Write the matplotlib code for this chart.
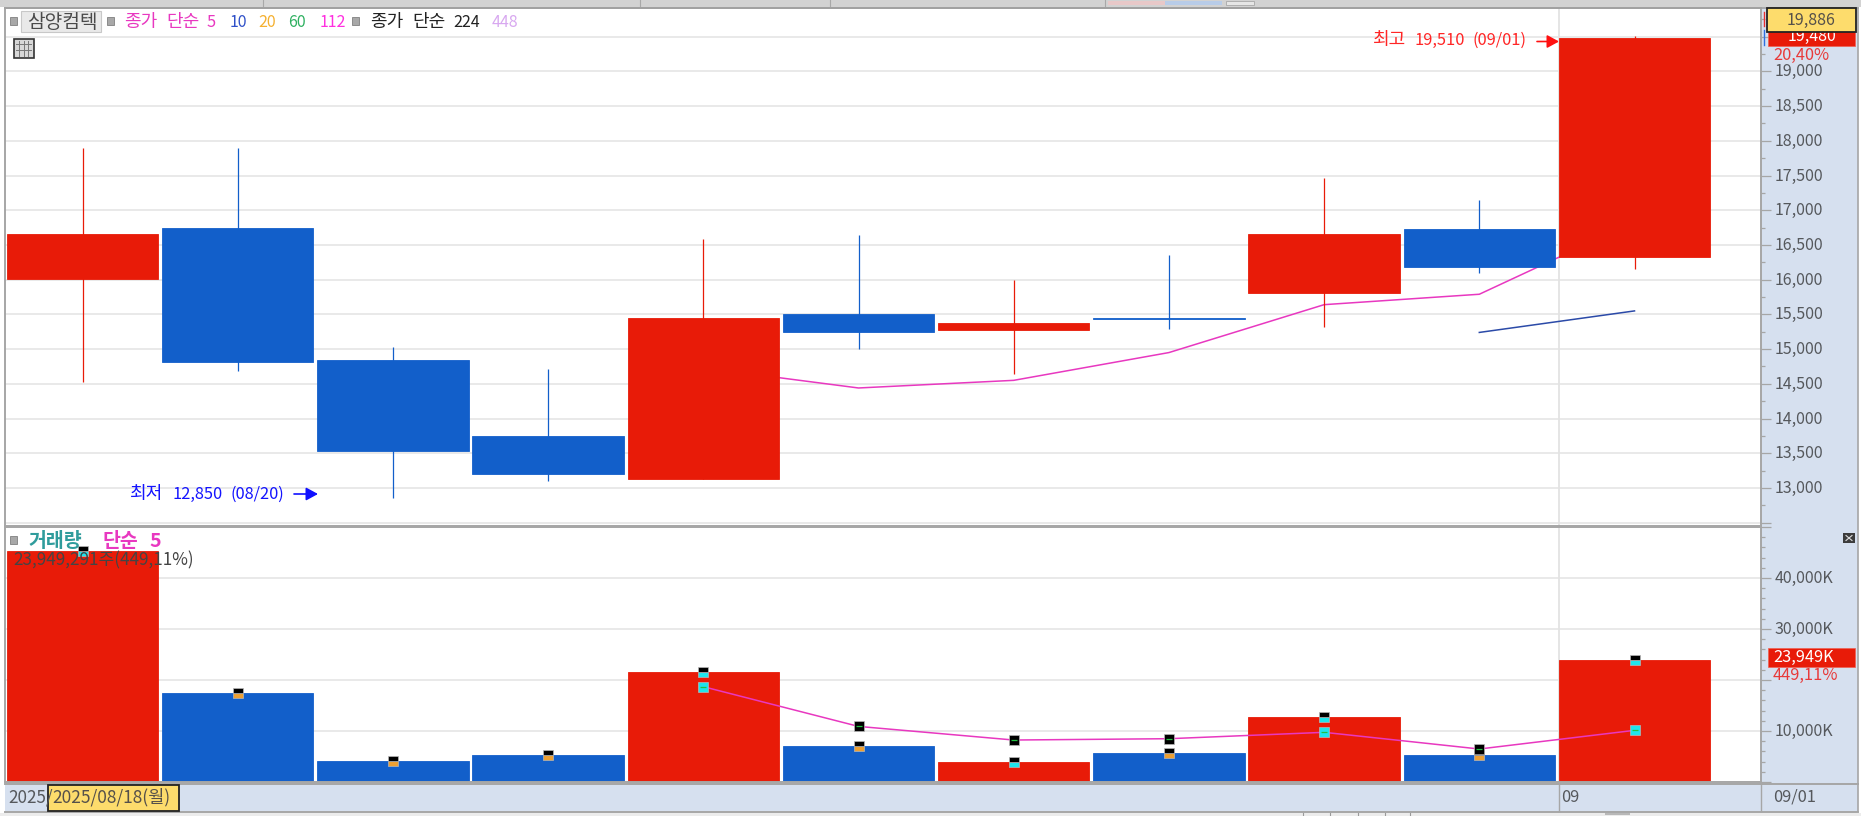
import matplotlib
matplotlib.use('Agg')
import matplotlib.pyplot as plt
from matplotlib.patches import Rectangle
from matplotlib.transforms import ScaledTranslation

plt.rcParams['font.family'] = ['Noto Sans CJK KR', 'DejaVu Sans']

W, H = 1861, 816

# candles, oldest first
opens = [16010, 16750, 14850, 13750, 13135, 15500, 15275, 15450, 15805, 16730, 16320]
closes = [16660, 14810, 13535, 13205, 15445, 15240, 15380, 15440, 16660, 16180, 19480]
highs = [17890, 17900, 15030, 14710, 16590, 16640, 15990, 16350, 17460, 17150, 19510]
lows = [14520, 14690, 12850, 13100, 13135, 15000, 14640, 15290, 15320, 16090, 16160]
volumes = [45350, 17500, 4120, 5300, 21630, 7120, 3920, 5690, 12760, 5360, 23949]

ma5_x = [4, 5, 6, 7, 8, 9, 10]
ma5_price = [14730, 14440, 14550, 14950, 15640, 15790, 16830]
ma10_x = [9, 10]
ma10_price = [15240, 15550]
vol_ma5 = [18690, 10900, 8230, 8490, 9740, 6470, 10130]
vol_ma5_marker = ['c', 'k', 'k', 'k', 'c', 'k', 'c']

price_ticks = list(range(12500, 20000, 500))
price_labels = ['', '13,000', '13,500', '14,000', '14,500', '15,000', '15,500', '16,000',
                '16,500', '17,000', '17,500', '18,000', '18,500', '19,000', '']
vol_ticks = [0, 10000, 20000, 30000, 40000, 50000]
vol_labels = ['', '10,000K', '', '30,000K', '40,000K', '']
month_break = 9.513

RED = '#e81b08'
BLUE = '#125fca'
GRID = '#e3e3e3'
PANEL = '#d6e0ef'
AXIS = '#a6a6a6'
TXT = '#55585c'
MAGENTA = '#e838c0'

n = len(opens)
xs = list(range(n))
colors = [RED if c >= o else BLUE for o, c in zip(opens, closes)]

fig = plt.figure(figsize=(W / 100, H / 100), dpi=100, facecolor='white')


def pane(top, bottom):
    left, right = 5, 1761
    return fig.add_axes([left / W, 1 - bottom / H, (right - left) / W, (bottom - top) / H])


def style_pane(ax):
    ax.set_xlim(-0.4994, 10.815)
    ax.set_xticks([])
    ax.yaxis.tick_right()
    ax.grid(axis='y', color=GRID, lw=1.1, zorder=0)
    ax.axvline(month_break, color=GRID, lw=1.3, zorder=0)
    ax.set_axisbelow(True)
    ax.tick_params(axis='y', which='major', length=7.2, width=0.9, color=AXIS, labelsize=11.5,
                   labelcolor=TXT, pad=2.5)
    ax.tick_params(axis='y', which='minor', length=2.9, width=0.9, color=AXIS)
    for s in ax.spines.values():
        s.set_color(AXIS)
        s.set_linewidth(1.4)
    # the labels sit a little above their ticks
    lift = ScaledTranslation(0, 1.5 / 100, fig.dpi_scale_trans)
    for lab in ax.get_yticklabels():
        lab.set_transform(lab.get_transform() + lift)


# background strips
fig.patches.append(Rectangle((1761 / W, 1 - 811 / H), 97 / W, 811 / H, transform=fig.transFigure,
                             fc=PANEL, ec='none', zorder=-1))
fig.patches.append(Rectangle((5 / W, 1 - 811 / H), 1853 / W, 28 / H, transform=fig.transFigure,
                             fc=PANEL, ec='none', zorder=-1))

# price pane
ax = pane(8, 526)
ax.set_ylim(12452, 19913)
ax.set_yticks(price_ticks)
ax.set_yticklabels(price_labels)
ax.set_yticks(list(range(12750, 20000, 500)), minor=True)
style_pane(ax)
ax.plot(ma5_x, ma5_price, color=MAGENTA, lw=1.1, zorder=1)
ax.plot(ma10_x, ma10_price, color='#2b4aa8', lw=1.1, zorder=1)
ax.vlines(xs, lows, highs, colors=colors, lw=0.9, zorder=2)
ax.bar(xs, [c - o for o, c in zip(opens, closes)], bottom=opens, width=0.975, color=colors,
       edgecolor=colors, lw=0.6, zorder=3)

# volume pane
vx = pane(527, 782)
vx.set_ylim(0, 50000)
vx.set_yticks(vol_ticks)
vx.set_yticklabels(vol_labels)
vx.set_yticks(list(range(2000, 50000, 2000)), minor=True)
style_pane(vx)
vx.bar(xs, volumes, width=0.975, color=colors, edgecolor=colors, lw=0.6, zorder=2)
vx.plot(ma5_x, vol_ma5, color=MAGENTA, lw=1.1, zorder=3)

CYAN = '#20e4ec'
ORANGE = '#eda033'
for x, v, c in zip(xs, volumes, colors):
    vx.plot(x, v, 's', ms=7, fillstyle='bottom', mfc=CYAN if c == RED else ORANGE, mfcalt='black',
            mec='#b8b8b8', mew=0.5, zorder=4, clip_on=False)
for x, v, m in zip(ma5_x, vol_ma5, vol_ma5_marker):
    vx.plot(x, v, 's', ms=7, mfc=CYAN if m == 'c' else 'black', mec='#b8b8b8', mew=0.5, zorder=4)
    vx.plot(x, v, '_', ms=5, color='#20c040', mew=0.9, zorder=5)

# everything that is chrome or text sits on a pixel overlay
ov = fig.add_axes([0, 0, 1, 1], zorder=10)
ov.set_xlim(0, W)
ov.set_ylim(H, 0)
ov.axis('off')
ov.patch.set_alpha(0)


def box(x0, y0, x1, y1, fc, ec='none', lw=0.0, z=2):
    ov.add_patch(Rectangle((x0, y0), x1 - x0, y1 - y0, fc=fc, ec=ec, lw=lw, zorder=z))


def label(x, y, s, color=TXT, size=11.5, ha='left', weight='normal', z=5):
    # this font centres a bit high, so push it down to the pixel row asked for
    ov.text(x, y + 1.5, s, color=color, fontsize=size, ha=ha, va='center', fontweight=weight, zorder=z)


def bullet(x, y):
    box(x - 3.5, y - 4, x + 3.5, y + 4, '#a8a8a8', '#808080', 0.6)


arrow_style = '-|>,head_length=0.55,head_width=0.3'

# top window strip
box(0, 0, W, 7, '#d2d2d2')
ov.plot([5, 1858], [7.5, 7.5], color='#a0a0a0', lw=1.2)
for sx in [263, 640, 830, 1105]:
    ov.plot([sx, sx], [0, 6], color='#a8a8a8', lw=0.8)
box(1108, 1, 1165, 5, '#e8c8c8')
box(1165, 1, 1222, 5, '#b8cce8')
box(1226, 1, 1254, 5, '#e6e6e6', '#a8a8a8', 0.6)

# legend row
bullet(13.5, 21)
box(21, 11, 101, 32, '#e9e9e9', '#c8c8c8', 0.8)
label(62, 21, '삼양컴텍', '#4a4a4a', 13.8, 'center')
bullet(110, 21)
label(124, 21, '종가', MAGENTA, 13)
label(166, 21, '단순', MAGENTA, 13)
label(207, 21, '5', MAGENTA, 11.8)
label(230, 21, '10', '#2f50c8', 11.5)
label(258, 21, '20', '#f5b030', 11.5)
label(288, 21, '60', '#2eb060', 11.5)
label(320, 21, '112', '#ff30e0', 11.5)
bullet(355.5, 21)
label(370, 21, '종가', '#222222', 13)
label(412, 21, '단순', '#222222', 13)
label(453, 21, '224', '#222222', 11.5)
label(492, 21, '448', '#d8a8f0', 11.5)

# table icon
box(13.5, 38.5, 33.5, 58, '#d8d8d8', '#333333', 1.2)
for gx in [19, 23.5, 28]:
    ov.plot([gx, gx], [41, 55.5], color='#777777', lw=0.7, zorder=3)
for gy in [44, 49.5]:
    ov.plot([16, 31], [gy, gy], color='#777777', lw=0.7, zorder=3)

# high / low notes
label(1372, 39, '최고', '#ff2626', 13)
label(1415, 39, '19,510', '#ff2626', 11.8)
label(1472, 39, '(09/01)', '#ff2626', 11.8)
ov.annotate('', xy=(1559, 41.5), xytext=(1537, 41.5),
            arrowprops=dict(arrowstyle=arrow_style, color='#ff1010', lw=1.2, mutation_scale=13, shrinkA=0, shrinkB=0))
label(129, 493, '최저', '#1414ff', 13)
label(173, 493, '12,850', '#1414ff', 11.8)
label(230, 493, '(08/20)', '#1414ff', 11.8)
ov.annotate('', xy=(318, 494), xytext=(294, 494),
            arrowprops=dict(arrowstyle=arrow_style, color='#1010ff', lw=1.2, mutation_scale=13, shrinkA=0, shrinkB=0))

# price side labels
ov.plot([1763.5, 1763.5], [12, 26], color='#e83030', lw=1.0, zorder=1)
ov.plot([1763.5, 1763.5], [30, 45], color='#2f6fe0', lw=1.0, zorder=1)
box(1768, 30, 1855, 46, RED, '#f06050', 0.5, 2)
label(1812, 35, '19,480', 'white', 11.5, 'center', z=3)
box(1767, 8, 1856, 32, '#fddc6c', '#222222', 1.3, 4)
label(1811.5, 19, '19,886', '#55504a', 11.5, 'center')
box(1772, 46.5, 1832, 64, PANEL, z=3)
label(1773, 54, '20,40%', '#e83a3a', 11.8)

# volume header
bullet(13.5, 539.5)
label(28, 540, '거래량', '#2f9c9c', 14, weight='bold')
label(102, 540, '단순', MAGENTA, 14, weight='bold')
label(149, 540, '5', MAGENTA, 14, weight='bold')
label(13, 559, '23,949,291주(449,11%)', '#444444', 12.3)

# volume side labels
box(1843, 533, 1855, 543, '#3c3c3c')
ov.plot([1846, 1852], [535.5, 540.5], color='#e0e0e0', lw=0.8, zorder=3)
ov.plot([1846, 1852], [540.5, 535.5], color='#e0e0e0', lw=0.8, zorder=3)
box(1768, 648, 1855, 667, RED, '#f06050', 0.5, 2)
label(1773, 656, '23,949K', 'white', 11.8)
box(1772, 667.5, 1840, 684, PANEL, z=3)
label(1773, 674, '449,11%', '#e83a3a', 11.8)

# date strip
ov.plot([5, 1858], [783.5, 783.5], color=AXIS, lw=1.4, zorder=1)
ov.plot([5, 1858], [811.5, 811.5], color=AXIS, lw=1.4, zorder=1)
ov.plot([1858, 1858], [8, 811], color=AXIS, lw=1.2, zorder=1)
ov.plot([1558.7, 1558.7], [784, 811], color=AXIS, lw=1.0, zorder=1)
ov.plot([1761, 1761], [784, 811], color=AXIS, lw=1.0, zorder=1)
label(8, 796, '2025/', TXT, 12.3)
box(48, 785, 179, 811, '#fddc6c', '#222222', 1.3, 4)
label(52, 796, '2025/08/18(월)', '#55504a', 12.5)
label(1561, 796, '09', TXT, 11.8)
label(1773, 796, '09/01', TXT, 11.8)

# bottom window strip
box(0, 812.5, W, H, '#ececec')
for sx in [1303, 1330, 1358, 1385, 1410]:
    ov.plot([sx, sx], [813, H], color='#9a9a9a', lw=0.8, zorder=3)
box(1605, 812.5, 1630, 815, '#b8b8b8', z=3)

fig.savefig('out.png', dpi=100)
